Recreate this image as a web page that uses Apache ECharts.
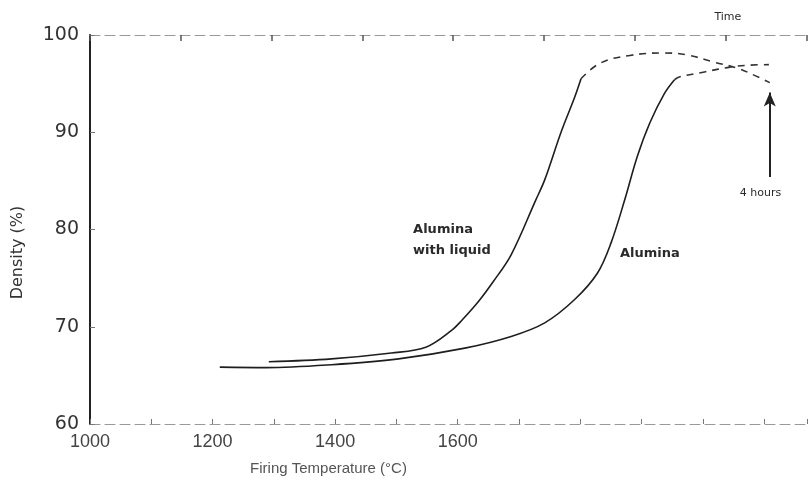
<!DOCTYPE html>
<html>
<head>
<meta charset="utf-8">
<script src="https://cdn.jsdelivr.net/npm/echarts@6/dist/echarts.min.js"></script>
<style>html,body{margin:0;padding:0;background:#fff}#c{width:810px;height:486px}</style>
</head>
<body>
<div id="c"></div>
<script>
// Tick labels
const yTicks = [60, 70, 80, 90, 100];
const xTickLabels = [1000, 1200, 1400, 1600];

// Alumina with liquid (solid part then dashed part), temperature in °C, density in %
const liquidSolidT = [1197, 1266, 1332, 1370, 1398, 1410, 1428, 1444, 1464, 1491, 1501, 1519, 1534, 1541];
const liquidSolidD = [66.4, 66.7, 67.3, 67.9, 69.6, 70.7, 72.6, 74.6, 77.4, 83.0, 85.1, 90.0, 93.6, 95.5];
const liquidDashT = [1541, 1562, 1595, 1633, 1658, 1688, 1713, 1731, 1749];
const liquidDashD = [95.5, 97.1, 97.9, 98.15, 97.95, 97.2, 96.6, 95.9, 95.1];

// Alumina
const aluminaSolidT = [1143, 1194, 1266, 1340, 1413, 1464, 1501, 1534, 1559, 1574, 1589, 1603, 1617, 1633, 1644];
const aluminaSolidD = [65.85, 65.8, 66.1, 66.7, 67.8, 69.0, 70.4, 72.8, 75.5, 78.6, 83.0, 87.5, 91.0, 94.0, 95.4];
const aluminaDashT = [1644, 1650, 1677, 1705, 1727, 1748];
const aluminaDashD = [95.4, 95.7, 96.2, 96.7, 96.9, 96.95];

// Annotations (data coordinates)
const arrowFrom = [1749, 85.4];
const arrowTo = [1749, 94.1];
const timeLabelAt = [1688, 101.85];

const zip = (a, b) => a.map((v, i) => [v, b[i]]);

const chart = echarts.init(document.getElementById('c'));
const lineCol = '#1e1e1e';
const annoStyle = { fontFamily: 'DejaVu Sans', fontSize: 13, fontWeight: 'bold', color: '#2a2a2a', lineHeight: 21 };

chart.setOption({
  backgroundColor: '#fff',
  animation: false,
  grid: { left: 90, right: 0, top: 35, bottom: 62 },
  xAxis: [
    {
      type: 'value', position: 'bottom', min: 1000, max: 2170, interval: 100,
      axisLine: { show: true, lineStyle: { color: '#999', width: 1, type: [10, 5] } },
      axisTick: { show: true, inside: true, length: 5, lineStyle: { color: '#777' } },
      axisLabel: {
        margin: 9, color: '#444', fontFamily: 'Liberation Sans', fontSize: 18,
        formatter: v => (xTickLabels.indexOf(v) >= 0 ? String(v) : '')
      },
      splitLine: { show: false },
      name: 'Firing Temperature (°C)', nameLocation: 'middle', nameGap: 37,
      nameTextStyle: { fontFamily: 'Liberation Sans', fontSize: 15, color: '#555', padding: [0, 240, 0, 0] }
    },
    {
      type: 'value', position: 'top', min: 1000, max: 1790, interval: 100,
      axisLine: { show: true, lineStyle: { color: '#999', width: 1, type: [10, 5] } },
      axisTick: { show: true, inside: true, length: 6, lineStyle: { color: '#555', width: 1.5 } },
      axisLabel: { show: false },
      splitLine: { show: false }
    }
  ],
  yAxis: {
    type: 'value', min: 60, max: 100, interval: 10,
    axisLine: { show: true, lineStyle: { color: '#222', width: 2 } },
    axisTick: { show: true, inside: true, length: 5, lineStyle: { color: '#777' } },
    axisLabel: { margin: 11, color: '#333', fontFamily: 'DejaVu Sans', fontSize: 19,
      formatter: v => (yTicks.indexOf(v) >= 0 ? String(v) : '') },
    splitLine: { show: false },
    name: 'Density (%)', nameLocation: 'middle', nameGap: 64, nameRotate: 90,
    nameTextStyle: { fontFamily: 'DejaVu Sans', fontSize: 16, color: '#333', padding: [0, 46, 0, 0] }
  },
  series: [
    {
      name: 'Alumina with liquid', type: 'line', xAxisIndex: 1, data: zip(liquidSolidT, liquidSolidD),
      smooth: 0.35, showSymbol: false, symbol: 'none',
      lineStyle: { color: lineCol, width: 1.6 },
      markPoint: {
        symbol: 'circle', symbolSize: 0,
        label: { show: true, position: 'inside', ...annoStyle, align: 'left' },
        data: [
          { coord: [1356, 78.9], value: 'Alumina\nwith liquid', label: { formatter: 'Alumina\nwith liquid', align: 'left' } }
        ]
      },
      markLine: {
        silent: true, symbol: ['none', 'arrow'], symbolSize: [9, 14],
        label: { show: false },
        lineStyle: { color: '#222', width: 2, type: 'solid' },
        data: [[{ coord: arrowFrom }, { coord: arrowTo }]]
      }
    },
    {
      name: 'Alumina with liquid (dashed)', type: 'line', xAxisIndex: 1, data: zip(liquidDashT, liquidDashD),
      smooth: 0.4, showSymbol: false, symbol: 'none',
      lineStyle: { color: '#333', width: 1.6, type: [7, 6] }
    },
    {
      name: 'Alumina', type: 'line', xAxisIndex: 1, data: zip(aluminaSolidT, aluminaSolidD),
      smooth: 0.35, showSymbol: false, symbol: 'none',
      lineStyle: { color: lineCol, width: 1.6 },
      markPoint: {
        symbol: 'circle', symbolSize: 0,
        label: { show: true, position: 'inside', ...annoStyle },
        data: [
          { coord: [1584, 77.5], value: 'Alumina', label: { formatter: 'Alumina', align: 'left' } },
          { coord: [1716, 83.75], value: '4 hours', label: { formatter: '4 hours', align: 'left', fontSize: 11, fontWeight: 'normal' } }
        ]
      }
    },
    {
      name: 'Alumina (dashed)', type: 'line', xAxisIndex: 1, data: zip(aluminaDashT, aluminaDashD),
      smooth: 0.4, showSymbol: false, symbol: 'none',
      lineStyle: { color: '#333', width: 1.6, type: [7, 6] }
    }
  ]
});

const tp = chart.convertToPixel({ xAxisIndex: 1, yAxisIndex: 0 }, timeLabelAt);
chart.setOption({
  graphic: [{
    type: 'text', x: tp[0], y: tp[1],
    style: { text: 'Time', fontFamily: 'DejaVu Sans', fontSize: 11, fill: '#2a2a2a',
      textAlign: 'left', textVerticalAlign: 'middle' }
  }]
});
</script>
</body>
</html>
